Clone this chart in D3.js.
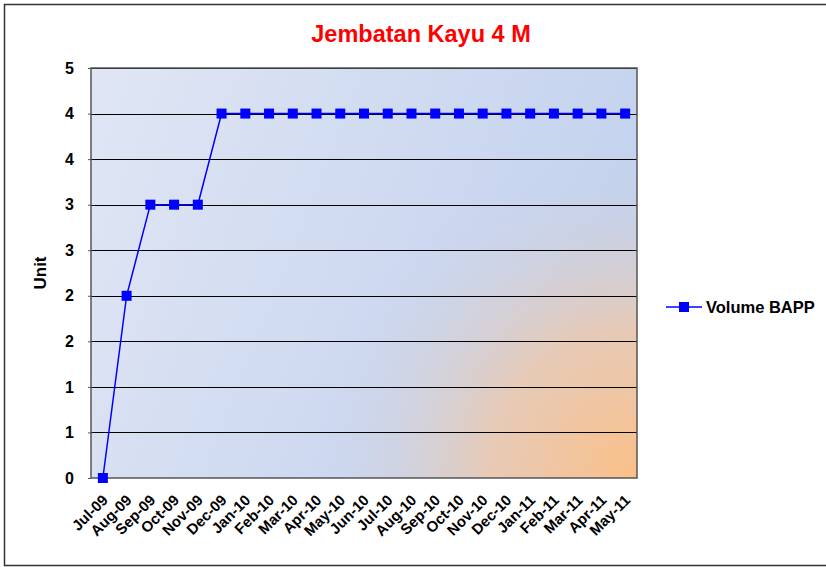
<!DOCTYPE html>
<html>
<head>
<meta charset="utf-8">
<script src="https://cdn.jsdelivr.net/npm/d3@7/dist/d3.min.js"></script>
<style>
  body { margin: 0; background: #fff; }
  text { font-family: "Liberation Sans", Arial, sans-serif; font-weight: bold; }
</style>
</head>
<body>
<svg width="826" height="567"></svg>
<script>
var months = ["Jul-09","Aug-09","Sep-09","Oct-09","Nov-09","Dec-09","Jan-10","Feb-10","Mar-10","Apr-10",
  "May-10","Jun-10","Jul-10","Aug-10","Sep-10","Oct-10","Nov-10","Dec-10","Jan-11","Feb-11","Mar-11","Apr-11","May-11"];
var volume = [0, 2, 3, 3, 3, 4, 4, 4, 4, 4, 4, 4, 4, 4, 4, 4, 4, 4, 4, 4, 4, 4, 4];
var yTicks = [0, 0.5, 1, 1.5, 2, 2.5, 3, 3.5, 4, 4.5];

var svg = d3.select("svg"),
    width = +svg.attr("width"),
    height = +svg.attr("height");

var m = {left: 91, top: 68, right: 637, bottom: 478};

// outer frame
svg.append("rect")
    .attr("x", 4.5).attr("y", 4.5)
    .attr("width", 830).attr("height", 561)
    .attr("fill", "#fff")
    .attr("stroke", "#333").attr("stroke-width", 1.5);

var defs = svg.append("defs");
var lin = defs.append("linearGradient").attr("id", "bg")
    .attr("x1", 0).attr("y1", 0).attr("x2", 1).attr("y2", 0.3);
lin.append("stop").attr("offset", 0).attr("stop-color", "#e0e6f4");
lin.append("stop").attr("offset", 1).attr("stop-color", "#c3d2ee");

var rad = defs.append("radialGradient").attr("id", "glow")
    .attr("gradientUnits", "userSpaceOnUse")
    .attr("cx", m.right).attr("cy", m.bottom).attr("r", 330);
rad.append("stop").attr("offset", 0).attr("stop-color", "#fbbf86").attr("stop-opacity", 1);
rad.append("stop").attr("offset", 0.45).attr("stop-color", "#f3c7a3").attr("stop-opacity", 0.75);
rad.append("stop").attr("offset", 1).attr("stop-color", "#c5d3ee").attr("stop-opacity", 0);

var x = d3.scaleBand().domain(months).range([m.left, m.right]);
var y = d3.scaleLinear().domain([0, 4.5]).range([m.bottom, m.top]);

svg.append("rect")
    .attr("x", m.left).attr("y", m.top)
    .attr("width", m.right - m.left).attr("height", m.bottom - m.top)
    .attr("fill", "url(#bg)");
svg.append("rect")
    .attr("x", m.left).attr("y", m.top)
    .attr("width", m.right - m.left).attr("height", m.bottom - m.top)
    .attr("fill", "url(#glow)");

// gridlines
svg.append("g").selectAll("line")
    .data(yTicks.slice(1))
    .enter().append("line")
    .attr("x1", m.left).attr("x2", m.right)
    .attr("y1", d => Math.round(y(d)) + 0.5).attr("y2", d => Math.round(y(d)) + 0.5)
    .attr("stroke", "#000").attr("stroke-width", 1);

// plot frame
svg.append("rect")
    .attr("x", m.left).attr("y", m.top)
    .attr("width", m.right - m.left).attr("height", m.bottom - m.top)
    .attr("fill", "none")
    .attr("stroke", "#555").attr("stroke-width", 1.5);

// y axis
var yAxis = svg.append("g")
    .attr("transform", "translate(" + m.left + ",0)")
    .call(d3.axisLeft(y).tickValues(yTicks).tickSize(3).tickFormat(d => Math.round(d + 1e-9)));
yAxis.select(".domain").remove();
yAxis.selectAll(".tick line").attr("stroke", "#555");
yAxis.selectAll("text")
    .attr("x", -17)
    .attr("font-size", 16)
    .attr("fill", "#000");

// x axis
var xAxis = svg.append("g")
    .attr("transform", "translate(0," + m.bottom + ")")
    .call(d3.axisBottom(x).tickSize(0));
xAxis.select(".domain").remove();
xAxis.selectAll("text")
    .attr("font-size", 15)
    .attr("fill", "#000")
    .attr("text-anchor", "end")
    .attr("transform", "translate(6,23) rotate(-45)")
    .attr("dy", 0)
    .attr("y", 0);

// line
var line = d3.line()
    .x((d, i) => x(months[i]) + x.bandwidth() / 2)
    .y(d => y(d));

svg.append("path")
    .datum(volume)
    .attr("d", line)
    .attr("fill", "none")
    .attr("stroke", "#0000ff")
    .attr("stroke-width", 1.5);

svg.append("g").selectAll("rect")
    .data(volume)
    .enter().append("rect")
    .attr("x", (d, i) => x(months[i]) + x.bandwidth() / 2 - 5)
    .attr("y", d => y(d) - 5)
    .attr("width", 10).attr("height", 10)
    .attr("fill", "#0000ff");

// title
svg.append("text")
    .attr("x", 421).attr("y", 42)
    .attr("text-anchor", "middle")
    .attr("font-size", 23.5)
    .attr("fill", "#ff0000")
    .text("Jembatan Kayu 4 M");

// y label
svg.append("text")
    .attr("transform", "translate(46,273) rotate(-90)")
    .attr("text-anchor", "middle")
    .attr("font-size", 17)
    .text("Unit");

// legend
var lg = svg.append("g").attr("transform", "translate(666,307)");
lg.append("line").attr("x1", 0).attr("x2", 36).attr("y1", 0).attr("y2", 0)
    .attr("stroke", "#0000ff").attr("stroke-width", 1.5);
lg.append("rect").attr("x", 13).attr("y", -5).attr("width", 10).attr("height", 10).attr("fill", "#0000ff");
lg.append("text").attr("x", 40).attr("y", 6).attr("font-size", 16.5).text("Volume BAPP");
</script>
</body>
</html>
